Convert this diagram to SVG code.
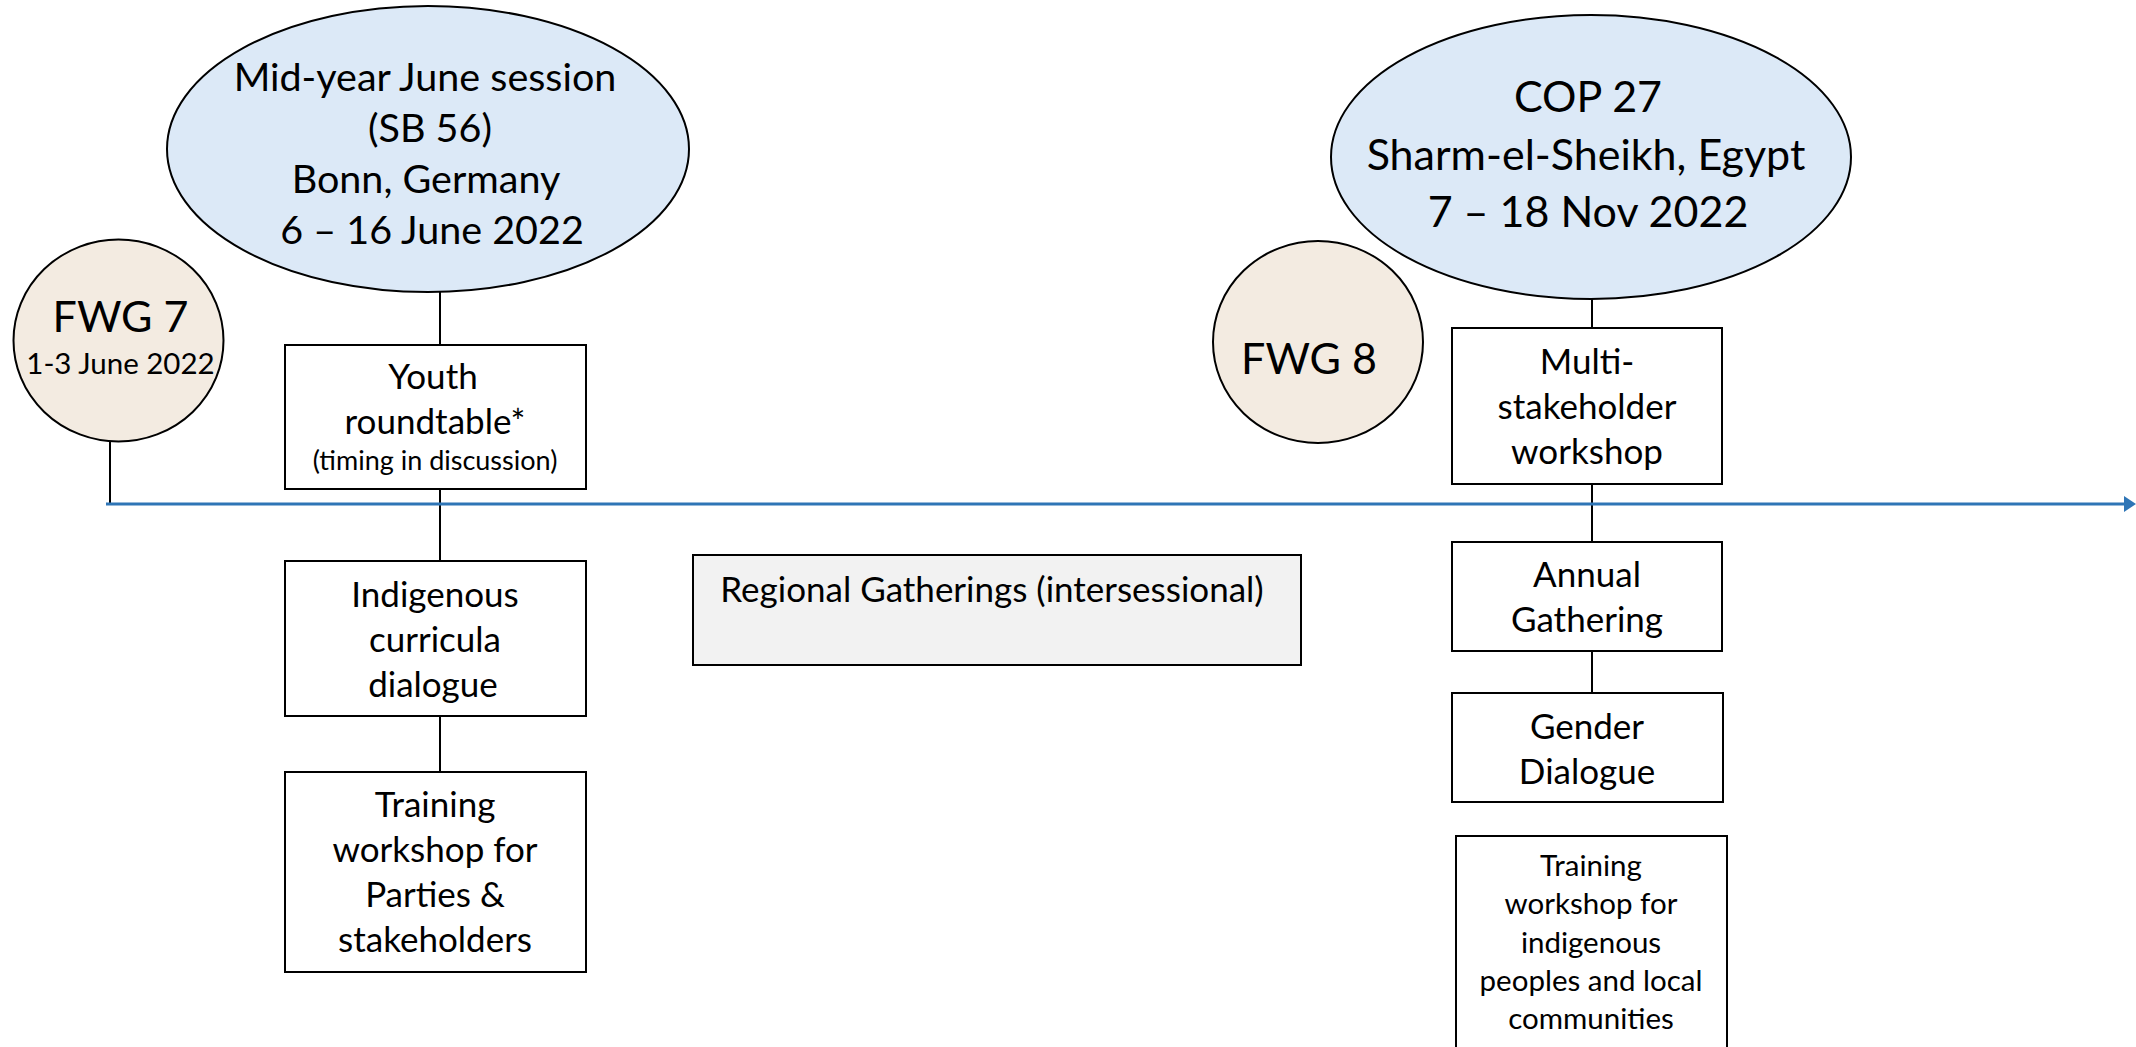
<svg xmlns="http://www.w3.org/2000/svg" width="2136" height="1047" viewBox="0 0 2136 1047">
<defs>
<style>
.t{font-family:Lato,"Liberation Sans",sans-serif;fill:#000;text-anchor:middle}
.f48{font-size:43px}
.f43{font-size:39.5px}
.f37{font-size:35px}
.f32{font-size:29.5px}
.f28{font-size:27px}
.box{fill:#fff;stroke:#000;stroke-width:2}
.grey{fill:#F2F2F2;stroke:#000;stroke-width:2}
.fwg{fill:#F3EBE1;stroke:#000;stroke-width:2}
.sess{fill:#DCE9F7;stroke:#000;stroke-width:2}
.conn{stroke:#000;stroke-width:2;fill:none}
.axis{stroke:#2E75B6;stroke-width:3;fill:none}
</style>
<marker id="arr" markerUnits="userSpaceOnUse" markerWidth="14" markerHeight="16" refX="0" refY="8" orient="auto">
<path d="M0,0 L12,8 L0,16 z" fill="#2E75B6"/>
</marker>
</defs>

<g id="connectors">
<line class="conn" x1="110" y1="441" x2="110" y2="504"/>
<line class="conn" x1="440" y1="291" x2="440" y2="345"/>
<line class="conn" x1="440" y1="489" x2="440" y2="561"/>
<line class="conn" x1="440" y1="716" x2="440" y2="772"/>
<line class="conn" x1="1592" y1="299" x2="1592" y2="328"/>
<line class="conn" x1="1592" y1="484" x2="1592" y2="542"/>
<line class="conn" x1="1592" y1="651" x2="1592" y2="693"/>
<line class="axis" x1="106" y1="504" x2="2124" y2="504" marker-end="url(#arr)"/>
</g>

<g id="fwg7">
<ellipse class="fwg" cx="118.5" cy="340.5" rx="105" ry="101"/>
<text class="t f48" x="120.5" y="332">FWG 7</text>
<text class="t f32" x="120.5" y="374">1-3 June 2022</text>
</g>

<g id="sb56">
<ellipse class="sess" cx="428" cy="149" rx="261" ry="143"/>
<text class="t f43" x="425" y="91">Mid-year June session</text>
<text class="t f43" x="430" y="142">(SB 56)</text>
<text class="t f43" x="426" y="193">Bonn, Germany</text>
<text class="t f43" x="432" y="244">6 – 16 June 2022</text>
</g>

<g id="youth">
<rect class="box" x="285" y="345" width="301" height="144"/>
<text class="t f37" x="433" y="389">Youth</text>
<text class="t f37" x="435" y="434">roundtable*</text>
<text class="t f28" x="435" y="470">(timing in discussion)</text>
</g>

<g id="indigenous-dialogue">
<rect class="box" x="285" y="561" width="301" height="155"/>
<text class="t f37" x="435" y="607">Indigenous</text>
<text class="t f37" x="435" y="652">curricula</text>
<text class="t f37" x="433" y="697">dialogue</text>
</g>

<g id="training-parties">
<rect class="box" x="285" y="772" width="301" height="200"/>
<text class="t f37" x="435" y="817">Training</text>
<text class="t f37" x="435" y="862">workshop for</text>
<text class="t f37" x="435" y="907">Parties &amp;</text>
<text class="t f37" x="435" y="952">stakeholders</text>
</g>

<g id="regional">
<rect class="grey" x="693" y="555" width="608" height="110"/>
<text class="t f37" x="992" y="602">Regional Gatherings (intersessional)</text>
</g>

<g id="fwg8">
<ellipse class="fwg" cx="1318" cy="342" rx="105" ry="101"/>
<text class="t f48" x="1309" y="374">FWG 8</text>
</g>

<g id="cop27">
<ellipse class="sess" cx="1591" cy="157" rx="260" ry="142"/>
<text class="t f48" x="1588" y="112">COP 27</text>
<text class="t f48" x="1586" y="170">Sharm-el-Sheikh, Egypt</text>
<text class="t f48" x="1588" y="227">7 – 18 Nov 2022</text>
</g>

<g id="multistakeholder">
<rect class="box" x="1452" y="328" width="270" height="156"/>
<text class="t f37" x="1587" y="374">Multi-</text>
<text class="t f37" x="1587" y="419">stakeholder</text>
<text class="t f37" x="1587" y="464">workshop</text>
</g>

<g id="annual">
<rect class="box" x="1452" y="542" width="270" height="109"/>
<text class="t f37" x="1587" y="587">Annual</text>
<text class="t f37" x="1587" y="632">Gathering</text>
</g>

<g id="gender">
<rect class="box" x="1452" y="693" width="271" height="109"/>
<text class="t f37" x="1587" y="739">Gender</text>
<text class="t f37" x="1587" y="784">Dialogue</text>
</g>

<g id="training-ipl">
<rect class="box" x="1456" y="836" width="271" height="220"/>
<text class="t f32" x="1591" y="876">Training</text>
<text class="t f32" x="1591" y="914">workshop for</text>
<text class="t f32" x="1591" y="953">indigenous</text>
<text class="t f32" x="1591" y="991">peoples and local</text>
<text class="t f32" x="1591" y="1029">communities</text>
</g>
</svg>
